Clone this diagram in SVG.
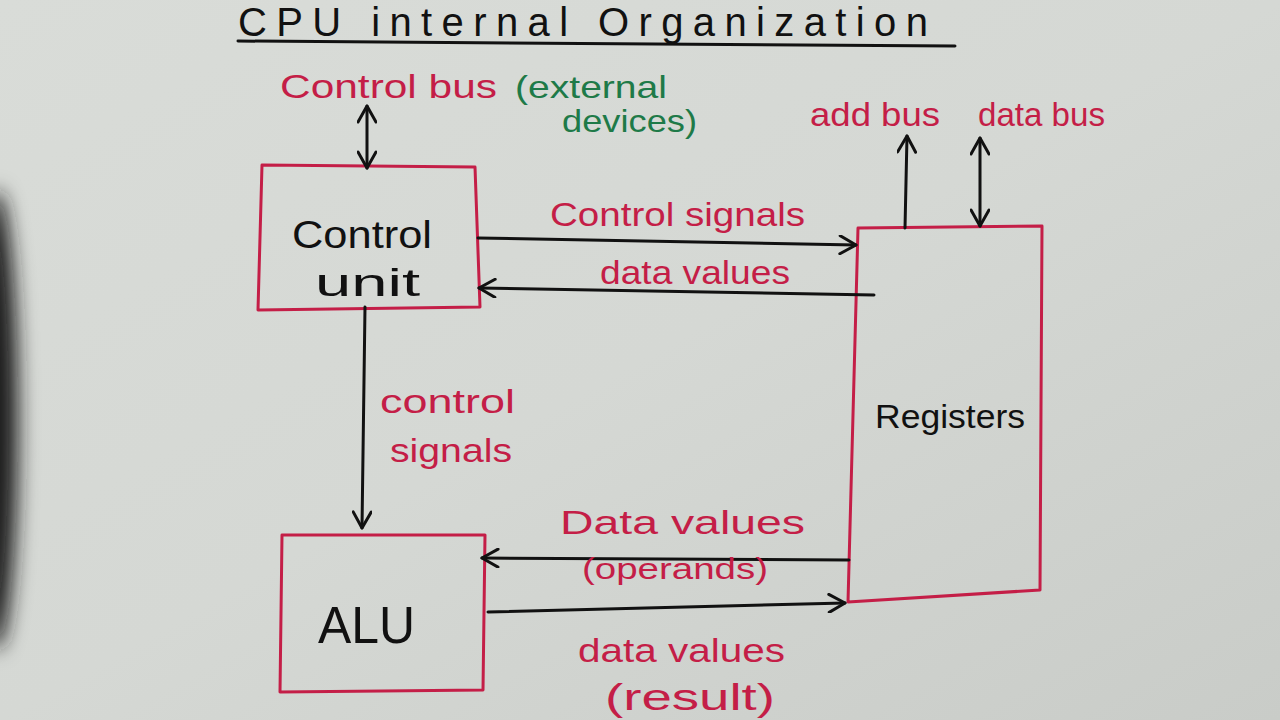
<svg xmlns="http://www.w3.org/2000/svg" width="1280" height="720" viewBox="0 0 1280 720">
<defs>
<linearGradient id="bg" x1="0" y1="0" x2="1" y2="1">
<stop offset="0" stop-color="#d9dcd8"/>
<stop offset="0.5" stop-color="#d5d8d4"/>
<stop offset="1" stop-color="#c9ccc8"/>
</linearGradient>
<filter id="blur" x="-1" y="-1" width="3" height="3">
<feGaussianBlur stdDeviation="10"/>
</filter>
<marker id="ah" viewBox="0 0 20 20" refX="18" refY="10" markerWidth="20" markerHeight="20" markerUnits="userSpaceOnUse" orient="auto-start-reverse">
<path d="M2,1 L18,10 L2,19" fill="none" stroke="#111" stroke-width="3" stroke-linecap="round" stroke-linejoin="round"/>
</marker>
<style>
.box{fill:none;stroke:#c41e47;stroke-width:3;stroke-linejoin:round}
.wire{fill:none;stroke:#111;stroke-width:3;stroke-linecap:round}
.red{fill:#c41e47;font-family:"Liberation Sans",Arial,sans-serif}
.green{fill:#1e7a48;font-family:"Liberation Sans",Arial,sans-serif}
.blk{fill:#111;font-family:"Liberation Sans",Arial,sans-serif}
</style>
</defs>
<rect x="0" y="0" width="1280" height="720" fill="url(#bg)"/>
<ellipse cx="-4" cy="420" rx="22" ry="230" fill="#1a1a1a" filter="url(#blur)"/>

<g id="title">
<text x="238" y="36" class="blk" font-size="40" textLength="690" lengthAdjust="spacing">CPU internal Organization</text>
<path d="M238,41 L955,46" class="wire"/>
</g>

<g id="control-unit">
<path d="M262,165 L475,167 L480,307 L258,310 Z" class="box"/>
<text x="292" y="248" class="blk" font-size="38" textLength="140" lengthAdjust="spacingAndGlyphs">Control</text>
<text x="315" y="296" class="blk" font-size="38" textLength="105" lengthAdjust="spacingAndGlyphs">unit</text>
</g>

<g id="registers">
<path d="M858,228 L1042,226 L1040,590 L848,602 Z" class="box"/>
<text x="875" y="428" class="blk" font-size="34" textLength="150" lengthAdjust="spacingAndGlyphs">Registers</text>
</g>

<g id="alu">
<path d="M282,535 L485,535 L483,690 L280,692 Z" class="box"/>
<text x="318" y="643" class="blk" font-size="52" textLength="97" lengthAdjust="spacingAndGlyphs">ALU</text>
</g>

<g id="connectors">
<path d="M367,106 L367,168" class="wire" marker-start="url(#ah)" marker-end="url(#ah)"/>
<path d="M905,228 L907,136" class="wire" marker-end="url(#ah)"/>
<path d="M980,138 L980,226" class="wire" marker-start="url(#ah)" marker-end="url(#ah)"/>
<path d="M478,238 L856,245" class="wire" marker-end="url(#ah)"/>
<path d="M874,295 L479,288" class="wire" marker-end="url(#ah)"/>
<path d="M365,307 L362,528" class="wire" marker-end="url(#ah)"/>
<path d="M849,560 L482,558" class="wire" marker-end="url(#ah)"/>
<path d="M488,612 L845,603" class="wire" marker-end="url(#ah)"/>
</g>

<g id="labels">
<text x="280" y="98" class="red" font-size="34" textLength="217" lengthAdjust="spacingAndGlyphs">Control bus</text>
<text x="515" y="98" class="green" font-size="32" textLength="152" lengthAdjust="spacingAndGlyphs">(external</text>
<text x="562" y="132" class="green" font-size="32" textLength="135" lengthAdjust="spacingAndGlyphs">devices)</text>
<text x="810" y="126" class="red" font-size="34" textLength="130" lengthAdjust="spacingAndGlyphs">add bus</text>
<text x="978" y="126" class="red" font-size="34" textLength="127" lengthAdjust="spacingAndGlyphs">data bus</text>
<text x="550" y="226" class="red" font-size="34" textLength="255" lengthAdjust="spacingAndGlyphs">Control signals</text>
<text x="600" y="284" class="red" font-size="34" textLength="190" lengthAdjust="spacingAndGlyphs">data values</text>
<text x="380" y="413" class="red" font-size="34" textLength="135" lengthAdjust="spacingAndGlyphs">control</text>
<text x="390" y="462" class="red" font-size="34" textLength="122" lengthAdjust="spacingAndGlyphs">signals</text>
<text x="560" y="534" class="red" font-size="34" textLength="245" lengthAdjust="spacingAndGlyphs">Data values</text>
<text x="582" y="579" class="red" font-size="30" textLength="186" lengthAdjust="spacingAndGlyphs">(operands)</text>
<text x="578" y="662" class="red" font-size="34" textLength="207" lengthAdjust="spacingAndGlyphs">data values</text>
<text x="605" y="710" class="red" font-size="36" textLength="170" lengthAdjust="spacingAndGlyphs">(result)</text>
</g>
</svg>
